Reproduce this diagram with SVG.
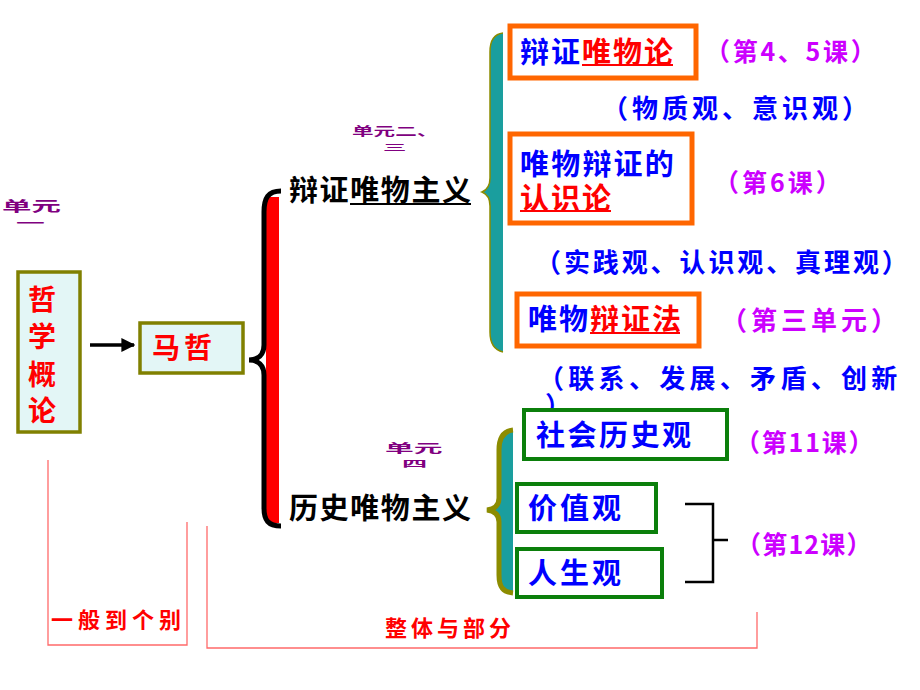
<svg xmlns="http://www.w3.org/2000/svg" width="920" height="690" viewBox="0 0 920 690">
<defs>
<style>
text{font-family:"Noto Sans CJK SC","Liberation Sans",sans-serif;font-weight:bold}
.blue{fill:#0000ff}
.red{fill:#ff0000}
.mag{fill:#cc00ff}
.blk{fill:#000}
.unit{fill:#800080}
.obox{fill:#fff;stroke:#ff6600;stroke-width:5}
.gbox{fill:#fff;stroke:#0b7f0b;stroke-width:4}
.ybox{fill:#e3f6f6;stroke:#808000;stroke-width:3.5}
.ul{stroke-width:2}
.thin{fill:none;stroke:#ff6a6a;stroke-width:1.3}
</style>
<marker id="ah" viewBox="0 0 10 10" refX="9" refY="5" markerWidth="4" markerHeight="4" orient="auto" markerUnits="strokeWidth">
<path d="M0,0 L10,5 L0,10 Z" fill="#000"/>
</marker>
</defs>
<rect width="920" height="690" fill="#fff"/>

<!-- unit labels -->
<g id="unit1">
<text class="unit" font-size="14" transform="translate(2,211) scale(2.1,1)">单元</text>
<text class="unit" font-size="12" transform="translate(16,228) scale(2.4,1)">一</text>
</g>
<g id="unit23">
<text class="unit" font-size="12" transform="translate(352,136) scale(1.8,1)">单元二、</text>
<text class="unit" font-size="9" transform="translate(383,151) scale(2.6,1)">三</text>
</g>
<g id="unit4">
<text class="unit" font-size="12" transform="translate(385,453) scale(2.4,1)">单元</text>
<text class="unit" font-size="9" transform="translate(402,467) scale(2.8,1)">四</text>
</g>

<!-- connectors -->
<g id="connectors">
<line x1="90" y1="345" x2="134" y2="345" stroke="#000" stroke-width="3.5" marker-end="url(#ah)"/>
<!-- big brace -->
<rect x="266" y="197" width="13" height="326" fill="#ff0000"/>
<path d="M281,191 C268,191 264,198 264,212 L264,345 C264,355 258,360 249,360 C258,360 264,365 264,375 L264,508 C264,520 268,526 281,526" fill="none" stroke="#000" stroke-width="5"/>
<!-- upper brace -->
<path d="M503,33 C494,34 490,40 490,52 L490,178 C490,186 487,190 482,192 C487,194 490,198 490,206 L490,332 C490,344 494,350 503,352 Z" fill="#1a9e9e" stroke="none"/>
<path d="M503,33 C494,34 490,40 490,52 L490,178 C490,186 487,190 482,192 C487,194 490,198 490,206 L490,332 C490,344 494,350 503,352" fill="none" stroke="#8c8c00" stroke-width="1.5"/>
<!-- lower brace -->
<path d="M513,430 C503,431 499,438 499,450 L499,498 C499,505 495,509 487,510 C495,511 499,515 499,522 L499,575 C499,587 503,592 513,593 Z" fill="#1a9e9e"/>
<path d="M513,430 C503,431 499,438 499,450 L499,498 C499,505 495,509 487,510 C495,511 499,515 499,522 L499,575 C499,587 503,592 513,593" fill="none" stroke="#8c8c00" stroke-width="5"/>
<!-- small bracket -->
<path d="M685,504 L713,504 L713,582 L685,582 M713,540 L728,540" fill="none" stroke="#000" stroke-width="2.5"/>
<!-- bottom brackets -->
<path class="thin" d="M48,460 L48,645 L187,645 L187,522"/>
<path class="thin" d="M207,526 L207,648 L757,648 L757,612"/>
</g>

<g id="zhexuegailun">
<rect class="ybox" x="18" y="272" width="62" height="160"/>
<text class="red" font-size="28" x="28" y="310">哲</text>
<text class="red" font-size="28" x="28" y="347">学</text>
<text class="red" font-size="28" x="28" y="385">概</text>
<text class="red" font-size="28" x="28" y="421">论</text>
</g>

<g id="mazhe">
<rect class="ybox" x="140" y="323" width="103" height="50"/>
<text class="red" font-size="28" x="152" y="358" letter-spacing="4">马哲</text>
</g>

<g id="bianzheng">
<text class="blk" font-size="29" x="289" y="201" letter-spacing="1.6">辩证唯物主义</text>
<line x1="350" y1="204" x2="471" y2="204" stroke="#000" class="ul"/>
</g>

<g id="lishi">
<text class="blk" font-size="29" x="289" y="519" letter-spacing="1.6">历史唯物主义</text>
</g>

<g id="bzwwl">
<rect class="obox" x="510" y="26" width="186" height="52"/>
<text font-size="29" x="520" y="63" letter-spacing="2"><tspan class="blue">辩证</tspan><tspan class="red">唯物论</tspan></text>
<line x1="582" y1="65" x2="673" y2="65" stroke="#ff0000" class="ul"/>
</g>
<text id="l45" class="mag" font-size="25" x="705" y="61" letter-spacing="2.7">（第4、5课）</text>
<text id="wzg" class="blue" font-size="26" x="602" y="118" letter-spacing="4">（物质观、意识观）</text>

<g id="rsl">
<rect class="obox" x="510" y="134" width="182" height="89"/>
<text class="blue" font-size="29" x="520" y="175" letter-spacing="2.2">唯物辩证的</text>
<text class="red" font-size="29" x="520" y="209" letter-spacing="2">认识论</text>
<line x1="520" y1="211" x2="611" y2="211" stroke="#ff0000" class="ul"/>
</g>
<text id="l6" class="mag" font-size="25" x="714" y="192" letter-spacing="3">（第6课）</text>
<text id="sjg" class="blue" font-size="26" x="535" y="272" letter-spacing="2.9">（实践观、认识观、真理观）</text>

<g id="wwbzf">
<rect class="obox" x="517" y="294" width="182" height="52"/>
<text font-size="29" x="528" y="330" letter-spacing="2"><tspan class="blue">唯物</tspan><tspan class="red">辩证法</tspan></text>
<line x1="590" y1="333" x2="680" y2="333" stroke="#ff0000" class="ul"/>
</g>
<text id="l3" class="mag" font-size="26" x="721" y="330" letter-spacing="4">（第三单元）</text>
<text id="lx" class="blue" font-size="26" x="538" y="388" letter-spacing="4.3">（联系、发展、矛盾、创新</text>
<text id="lx2" class="blue" font-size="26" x="545" y="415">）</text>

<g id="shlsg">
<rect class="gbox" x="524" y="410" width="203" height="49"/>
<text class="blue" font-size="29" x="536" y="446" letter-spacing="2.5">社会历史观</text>
</g>
<text id="l11" class="mag" font-size="25" x="735" y="452" letter-spacing="1.8">（第11课）</text>

<g id="jzg">
<rect class="gbox" x="517" y="484" width="139" height="48"/>
<text class="blue" font-size="29" x="528" y="519" letter-spacing="3">价值观</text>
</g>
<g id="rsg">
<rect class="gbox" x="517" y="549" width="145" height="48"/>
<text class="blue" font-size="29" x="528" y="584" letter-spacing="3">人生观</text>
</g>
<text id="l12" class="mag" font-size="25" x="736" y="554" letter-spacing="1.2">（第12课）</text>

<text id="ybdgb" class="red" font-size="22" x="51" y="628" letter-spacing="5">一般到个别</text>
<text id="ztybf" class="red" font-size="22" x="385" y="636" letter-spacing="4">整体与部分</text>
</svg>
